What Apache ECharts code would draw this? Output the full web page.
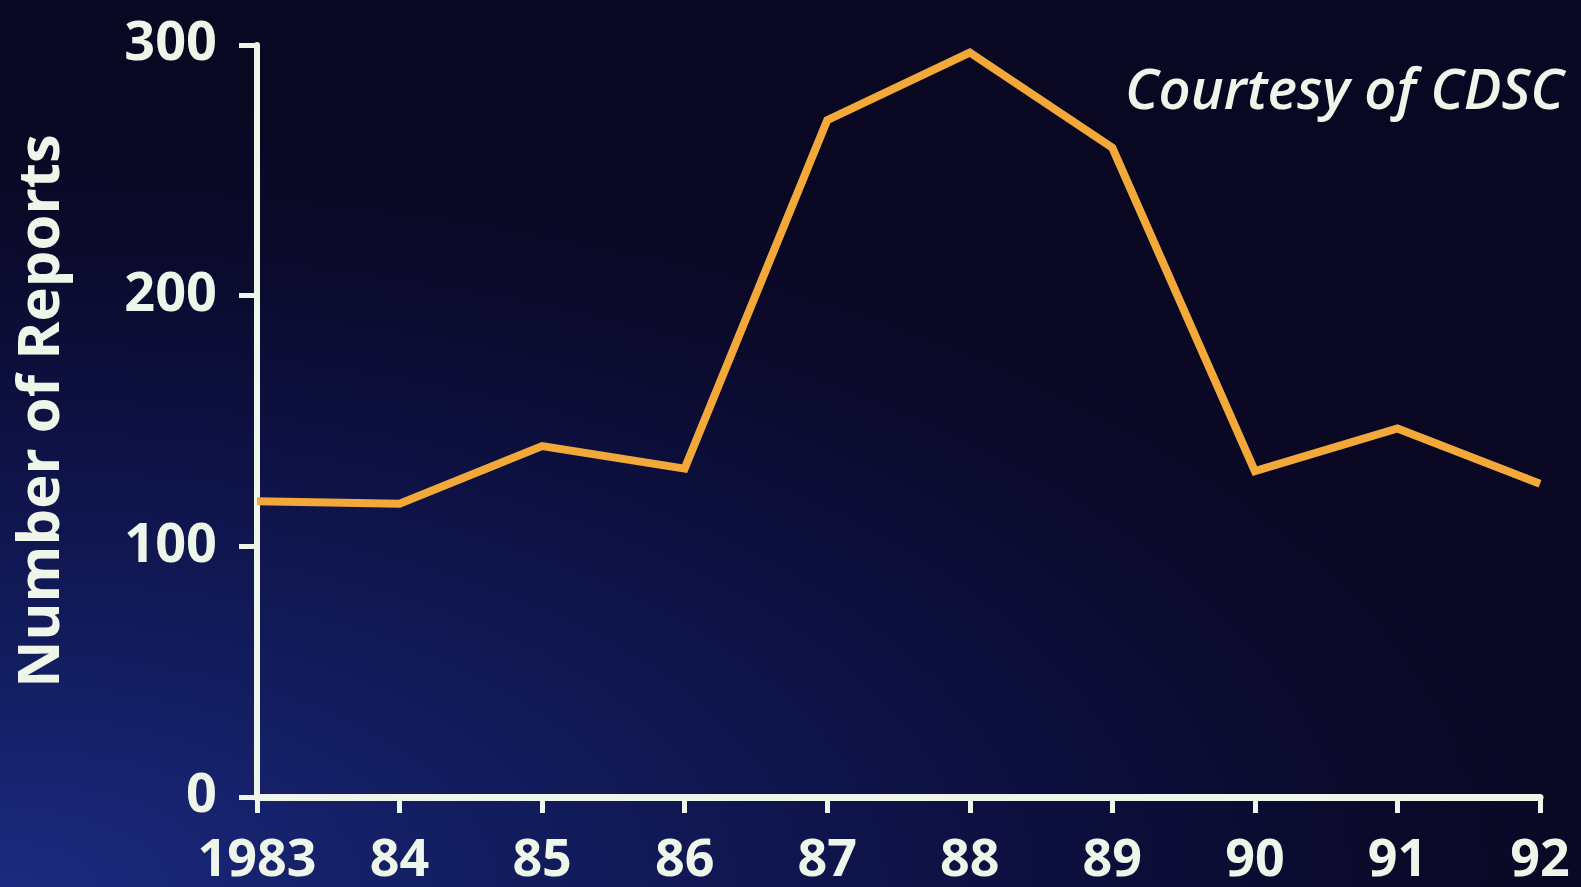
<!DOCTYPE html>
<html>
<head>
<meta charset="utf-8">
<script src="https://cdn.jsdelivr.net/npm/echarts@6/dist/echarts.min.js"></script>
<style>
html,body{margin:0;padding:0;width:1581px;height:887px;overflow:hidden;
background: radial-gradient(ellipse 1700px 800px at 0px 887px, #1c2a80 0%, #121c5e 30%, #0d1040 60%, #0b0928 85%, #0a0722 100%);}
#chart{width:1581px;height:887px;}
</style>
</head>
<body>
<div id="chart"></div>
<script>
const years = ['1983','84','85','86','87','88','89','90','91','92'];
const reports = [118, 117, 140, 131, 270, 297, 259, 130, 147, 125];
const yTicks = [0, 100, 200, 300];
const yTitle = 'Number of Reports';
const credit = 'Courtesy of CDSC';

const txt = '#eef6ea';
const chart = echarts.init(document.getElementById('chart'));
chart.setOption({
  backgroundColor: 'transparent',
  animation: false,
  title: {
    text: credit,
    left: 1120, top: 60,
    textStyle: {color: txt, fontFamily: 'Open Sans', fontStyle: 'italic', fontWeight: 600, fontSize: 56}
  },
  grid: {left: 257, right: 41, top: 45, bottom: 89},
  xAxis: {
    type: 'category',
    data: years,
    boundaryGap: false,
    axisLine: {lineStyle: {color: txt, width: 7}},
    axisTick: {show: true, interval: 0, length: 16, lineStyle: {color: txt, width: 5}},
    axisLabel: {interval: 0, color: txt, fontFamily: 'Open Sans', fontWeight: 700, fontSize: 52, margin: 38}
  },
  yAxis: {
    type: 'value',
    min: yTicks[0], max: yTicks[yTicks.length-1], interval: 100,
    name: yTitle,
    nameLocation: 'middle',
    nameRotate: 90,
    nameGap: 186,
    nameTextStyle: {color: txt, fontFamily: 'Open Sans', fontWeight: 700, fontSize: 58, padding: [0, 0, 0, 20]},
    axisLine: {show: true, lineStyle: {color: txt, width: 6}},
    axisTick: {show: true, length: 18, lineStyle: {color: txt, width: 5}},
    splitLine: {show: false},
    axisLabel: {color: txt, fontFamily: 'Open Sans', fontWeight: 700, fontSize: 54, margin: 40}
  },
  series: [{
    type: 'line',
    data: reports,
    symbol: 'none',
    lineStyle: {color: '#f2a93a', width: 8, join: 'miter'},
    itemStyle: {color: '#f2a93a'}
  }]
});
</script>
</body>
</html>
